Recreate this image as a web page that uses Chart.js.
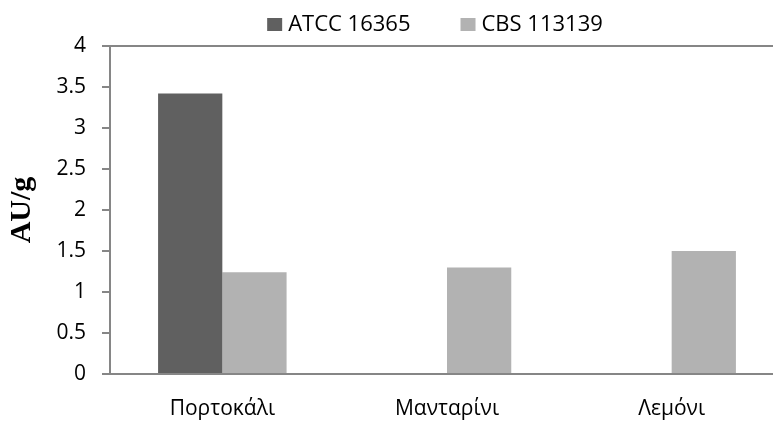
<!DOCTYPE html>
<html>
<head>
<meta charset="utf-8">
<script src="https://cdn.jsdelivr.net/npm/chart.js@4"></script>
<style>
  html, body { margin: 0; padding: 0; background: #fff; overflow: hidden; }
  #wrap { width: 790px; height: 421px; position: relative; }
</style>
</head>
<body>
<div id="wrap"><canvas id="grafica"></canvas></div>
<script>
// fruit peel substrates and activity per strain
const categorias = ['Πορτοκάλι', 'Μανταρίνι', 'Λεμόνι'];
const atcc = [3.42, 0, 0];
const cbs = [1.24, 1.30, 1.50];
const nombresSeries = ['ATCC 16365', 'CBS 113139'];
const ejeY = { min: 0, max: 4, paso: 0.5 };

const gris = '#868686';
const fuente = "'Open Sans', 'Noto Sans', sans-serif";
const tamLetra = 21;

// legend row above the plot: square, label, wide gap, square, label
const leyendaArriba = {
    id: 'leyendaArriba',
    afterDraw(chart) {
        const c = chart.ctx;
        const area = chart.chartArea;
        const caja = { w: 15, h: 13 };
        const hueco = 6;
        const separacion = 50;
        const base = area.top - 15;
        c.save();
        c.font = '22px ' + fuente;
        const anchos = chart.data.datasets.map(d => c.measureText(d.label).width);
        const total = anchos.reduce((a, b) => a + b, 0) + chart.data.datasets.length * (caja.w + hueco) + separacion * (anchos.length - 1);
        let x = (area.left + area.right) / 2 - 12 - total / 2;
        chart.data.datasets.forEach((d, i) => {
            c.fillStyle = d.backgroundColor;
            c.fillRect(x, base - caja.h, caja.w, caja.h);
            x += caja.w + hueco;
            c.fillStyle = '#000';
            c.textBaseline = 'alphabetic';
            c.textAlign = 'left';
            c.fillText(d.label, x, base);
            x += anchos[i] + separacion;
        });
        c.restore();
    }
};

const ctx = document.getElementById('grafica').getContext('2d');

new Chart(ctx, {
    type: 'bar',
    data: {
        labels: categorias,
        datasets: [{
            label: nombresSeries[0],
            data: atcc,
            backgroundColor: '#606060',
            categoryPercentage: 0.572,
            barPercentage: 1
        }, {
            label: nombresSeries[1],
            data: cbs,
            backgroundColor: '#b2b2b2',
            categoryPercentage: 0.572,
            barPercentage: 1
        }]
    },
    options: {
        responsive: true,
        maintainAspectRatio: false,
        animation: false,
        layout: { padding: { left: 0, right: 6, top: 46, bottom: 0 } },
        scales: {
            x: {
                grid: { display: false, drawTicks: false },
                border: { display: true, color: gris, width: 2 },
                ticks: { color: '#000', font: { family: fuente, size: tamLetra }, padding: 22 },
                afterFit: s => { s.height = 47; }
            },
            y: {
                min: ejeY.min,
                max: ejeY.max,
                ticks: {
                    stepSize: ejeY.paso,
                    color: '#000',
                    font: { family: fuente, size: tamLetra },
                    padding: 16,
                    callback: v => String(v)
                },
                grid: {
                    color: c => (c.tick && c.tick.value === ejeY.max) ? gris : 'rgba(0,0,0,0)',
                    tickColor: gris,
                    tickLength: 8,
                    lineWidth: 2
                },
                border: { display: true, color: gris, width: 2 },
                title: {
                    display: true,
                    text: 'AU/g',
                    color: '#000',
                    font: { family: "'Liberation Serif', 'Times New Roman', serif", size: 30, weight: 'bold' },
                    padding: 4
                },
                afterFit: s => { s.width = 110; }
            }
        },
        plugins: {
            legend: { display: false },
            tooltip: { enabled: false }
        }
    },
    plugins: [leyendaArriba]
});
</script>
</body>
</html>
